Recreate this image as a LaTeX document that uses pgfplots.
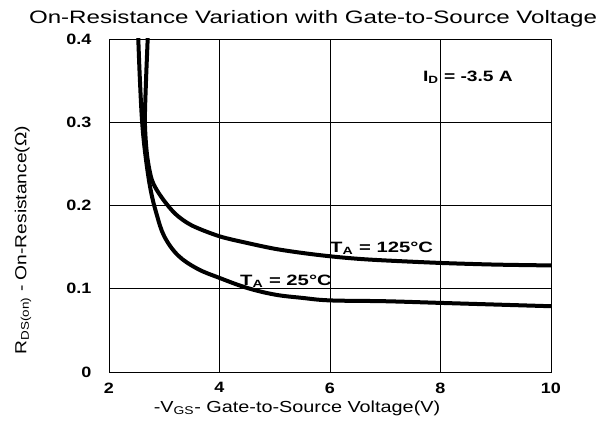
\documentclass[border=0pt]{standalone}
\usepackage{pgfplots}
\pgfplotsset{compat=1.18}
\usepackage{fontspec}
\setmainfont{Liberation Sans}
\begin{document}
\begin{tikzpicture}
\path[use as bounding box] (0,0) rectangle (605pt,425pt);
\begin{axis}[
 at={(109pt,53pt)}, anchor=south west,
 width=442pt, height=333pt, scale only axis,
 xmin=2, xmax=10, ymin=0, ymax=0.4,
 xtick={2,4,6,8,10}, ytick={0,0.1,0.2,0.3,0.4},
 xticklabels={\scalebox{1.2}[1]{2},\scalebox{1.2}[1]{4},\scalebox{1.2}[1]{6},\scalebox{1.2}[1]{8},\scalebox{1.2}[1]{10}},
 yticklabels={\scalebox{1.2}[1]{0},\scalebox{1.2}[1]{0.1},\scalebox{1.2}[1]{0.2},\scalebox{1.2}[1]{0.3},\scalebox{1.2}[1]{0.4}},
 grid=major, major grid style={black, line width=0.8pt},
 axis line style={black, line width=0.9pt},
 major tick length=0pt,
 tick label style={font=\fontsize{15}{17}\selectfont\bfseries},
 xticklabel style={yshift=-7pt},
 yticklabel style={xshift=-14pt},
 clip=true,
]
\addplot[black, line width=4pt, smooth, tension=0.6] coordinates {
(2.52,0.42)(2.53,0.40)(2.56,0.35)(2.60,0.30)(2.66,0.26)(2.75,0.22)(2.86,0.19)(3.0,0.163)(3.25,0.140)(3.6,0.124)(4.0,0.113)(4.5,0.101)(5.0,0.093)(5.5,0.089)(6.0,0.086)(7.0,0.085)(8.0,0.083)(9.0,0.081)(10.0,0.079)
};
\addplot[black, line width=4pt, smooth, tension=0.5] coordinates {
(2.71,0.42)(2.70,0.40)(2.67,0.35)(2.65,0.30)(2.69,0.26)(2.78,0.23)(2.95,0.21)(3.2,0.190)(3.5,0.176)(4.0,0.163)(4.5,0.155)(5.0,0.148)(5.5,0.143)(6.0,0.139)(6.5,0.136)(7.0,0.134)(8.0,0.131)(9.0,0.129)(10.0,0.128)
};
\node[anchor=west, font=\fontsize{15}{17}\selectfont\bfseries, inner sep=0pt] at (axis cs:7.68,0.354) {\scalebox{1.28}[1]{I\textsubscript{D} = -3.5 A}};
\node[anchor=west, font=\fontsize{15}{17}\selectfont\bfseries, inner sep=0pt] at (axis cs:6.0,0.149) {\scalebox{1.35}[1]{T\textsubscript{A} = 125°C}};
\node[anchor=west, font=\fontsize{15}{17}\selectfont\bfseries, inner sep=0pt] at (axis cs:4.37,0.109) {\scalebox{1.35}[1]{T\textsubscript{A} = 25°C}};
\end{axis}
\node[font=\fontsize{18}{20}\selectfont] at (313pt,406pt) {\scalebox{1.34}[1]{On-Resistance Variation with Gate-to-Source Voltage}};
\node[font=\fontsize{16}{18}\selectfont] at (297pt,17pt) {\scalebox{1.24}[1]{-V\textsubscript{GS}- Gate-to-Source Voltage(V)}};
\node[rotate=90, font=\fontsize{16}{18}\selectfont] at (23pt,185pt) {\scalebox{1.2}[1]{R\textsubscript{DS(on)} - On-Resistance(Ω)}};
\end{tikzpicture}
\end{document}
